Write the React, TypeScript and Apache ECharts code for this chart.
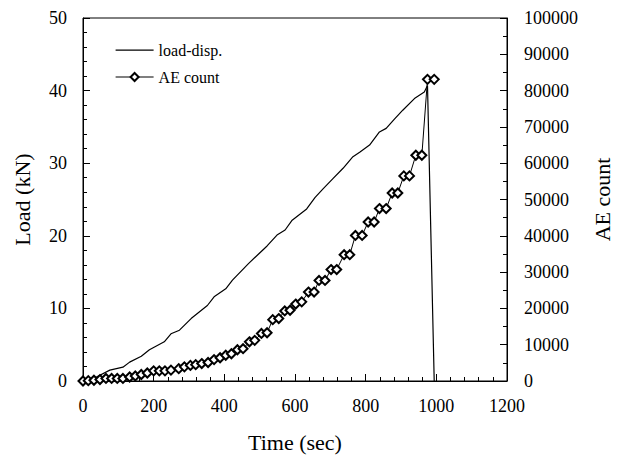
import React, { useEffect, useRef } from "react";
import * as echarts from "echarts";

const xTicks = [0, 200, 400, 600, 800, 1000, 1200];
const loadTimes = [0, 38, 76, 113, 132, 165, 188, 230, 249, 273, 306, 352, 371, 404, 423, 469, 497, 521, 549, 572, 591, 633, 657, 680, 708, 736, 764, 783, 811, 839, 858, 882, 905, 938, 966, 975, 994];
const loadValues = [0, 0.55, 1.5, 1.9, 2.6, 3.4, 4.3, 5.4, 6.5, 7.0, 8.6, 10.4, 11.6, 12.7, 13.9, 16.2, 17.5, 18.6, 20.1, 20.8, 22.1, 23.7, 25.3, 26.5, 27.9, 29.3, 30.9, 31.5, 32.5, 34.3, 34.8, 36.1, 37.3, 38.9, 39.8, 40.7, 0];
const aeTimes = [0, 15, 31, 48, 65, 81, 97, 113, 132, 148, 165, 182, 200, 216, 232, 249, 271, 287, 304, 319, 336, 354, 371, 388, 404, 420, 437, 453, 471, 486, 505, 521, 537, 554, 571, 586, 602, 619, 638, 654, 668, 685, 702, 718, 739, 755, 771, 790, 807, 824, 839, 858, 875, 891, 908, 924, 942, 959, 975, 994];
const aeValues = [0, 100, 200, 400, 700, 700, 700, 700, 1100, 1400, 1800, 2200, 2800, 2800, 2800, 3000, 3400, 3900, 4300, 4500, 4800, 5100, 5900, 6400, 7100, 7500, 8600, 8900, 10800, 11200, 13100, 13300, 16900, 17200, 19300, 19500, 21200, 21800, 24500, 24500, 27700, 27700, 30700, 30700, 34800, 34800, 40100, 40100, 43800, 43800, 47500, 47500, 51800, 51800, 56500, 56500, 62200, 62200, 83100, 83100];

const FONT = "Liberation Serif";

export default function App() {
  const ref = useRef<HTMLDivElement>(null);
  useEffect(() => {
    if (!ref.current) return;
    const chart = echarts.init(ref.current, null, { renderer: "svg" });
    const loadData = loadTimes.map((t, i) => [t, loadValues[i]]);
    const aeData = aeTimes.map((t, i) => [t, aeValues[i]]);
    const axisLabel = { fontFamily: FONT, fontSize: 18, color: "#000" };
    const nameStyle = { fontFamily: FONT, fontSize: 22, color: "#000", fontWeight: "normal" };
    chart.setOption({
      animation: false,
      backgroundColor: "#fff",
      textStyle: { fontFamily: FONT },
      grid: {
        left: 83,
        right: 111,
        top: 18,
        bottom: 79,
        show: true,
        borderColor: "#000",
        borderWidth: 1,
        backgroundColor: "transparent",
      },
      legend: {
        data: [
          { name: "load-disp.", icon: "path://M0,0 L0,0 M0,4.5 L38,4.5 L38,5.7 L0,5.7 Z M38,10 L38,10" },
          { name: "AE count", lineStyle: { width: 1.2 } },
        ],
        orient: "vertical",
        left: 110,
        top: 37,
        itemWidth: 38,
        itemHeight: 10,
        itemGap: 11,
        textStyle: { fontFamily: FONT, fontSize: 16, color: "#000" },
      },
      xAxis: {
        type: "value",
        min: 0,
        max: 1200,
        interval: 200,
        name: "Time (sec)",
        nameLocation: "middle",
        nameGap: 50,
        nameTextStyle: nameStyle,
        axisLine: { lineStyle: { color: "#000", width: 1 } },
        axisTick: { inside: true, length: 7, lineStyle: { color: "#000" } },
        minorTick: { show: true, splitNumber: 5, length: 4, lineStyle: { color: "#000" } },
        splitLine: { show: false },
        axisLabel: { ...axisLabel, margin: 16, formatter: (v: number) => (xTicks.includes(v) ? String(v) : "") },
      },
      yAxis: [
        {
          type: "value",
          min: 0,
          max: 50,
          interval: 10,
          name: "Load (kN)",
          nameLocation: "middle",
          nameGap: 50,
          nameTextStyle: nameStyle,
          axisLine: { show: true, lineStyle: { color: "#000", width: 1 } },
          axisTick: { show: true, inside: true, length: 7, lineStyle: { color: "#000" } },
          minorTick: { show: true, splitNumber: 5, length: 4, lineStyle: { color: "#000" } },
          splitLine: { show: false },
          axisLabel: { ...axisLabel, margin: 16 },
        },
        {
          type: "value",
          min: 0,
          max: 100000,
          interval: 10000,
          position: "right",
          name: "AE count",
          nameLocation: "middle",
          nameGap: 84,
          nameTextStyle: nameStyle,
          axisLine: { show: true, lineStyle: { color: "#000", width: 1 } },
          axisTick: { show: true, inside: true, length: 7, lineStyle: { color: "#000" } },
          minorTick: { show: true, splitNumber: 2, length: 4, lineStyle: { color: "#000" } },
          splitLine: { show: false },
          axisLabel: { ...axisLabel, margin: 17, formatter: (v: number) => String(v) },
        },
      ],
      series: [
        {
          name: "load-disp.",
          type: "line",
          yAxisIndex: 0,
          data: loadData,
          symbol: "none",
          lineStyle: { color: "#000", width: 1.2 },
          itemStyle: { color: "#000" },
        },
        {
          name: "AE count",
          type: "line",
          yAxisIndex: 1,
          data: aeData,
          symbol: "emptyDiamond",
          symbolSize: 9,
          lineStyle: { color: "#000", width: 1 },
          itemStyle: { color: "#000", borderColor: "#000", borderWidth: 1.5 },
        },
      ],
    });
    return () => chart.dispose();
  }, []);
  return <div ref={ref} style={{ width: 621, height: 460, position: "absolute", left: 0, top: 0 }} />;
}
